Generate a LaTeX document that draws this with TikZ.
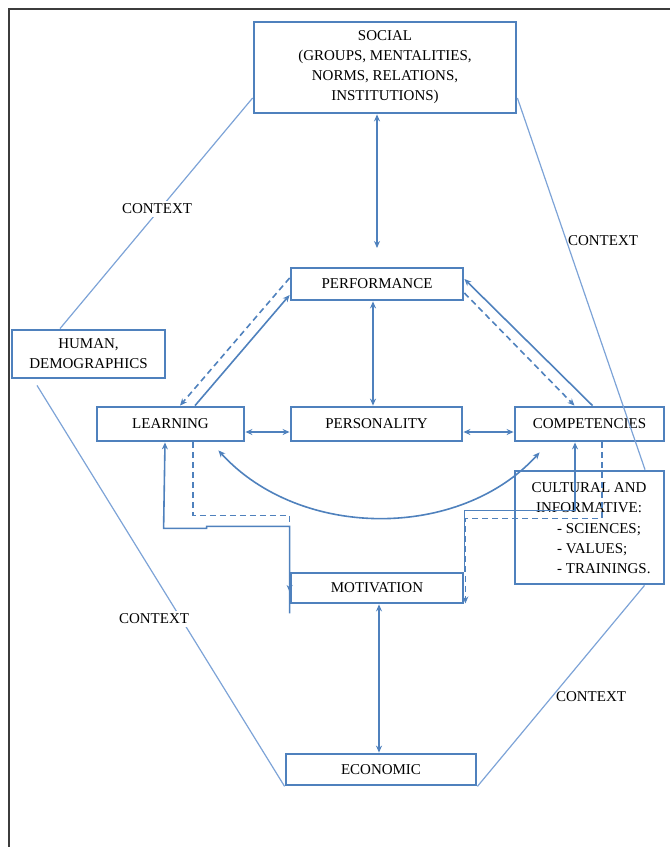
\documentclass[tikz,border=0pt]{standalone}
\usepackage{fontspec}
\setmainfont{Liberation Serif}
\usetikzlibrary{arrows.meta}
\definecolor{boxblue}{RGB}{79,129,189}
\definecolor{ctxblue}{RGB}{125,163,215}
\definecolor{framegray}{RGB}{60,60,60}
\begin{document}
\begin{tikzpicture}[x=1pt,y=-1pt,
  font=\fontsize{15}{20}\selectfont,
  box/.style={draw=boxblue, line width=2.8pt, inner sep=0pt, align=center},
  conn/.style={draw=boxblue, line width=1.6pt},
  dsh/.style={dash pattern=on 6pt off 4pt},
  ctx/.style={draw=ctxblue, line width=1.2pt},
  ctxlabel/.style={inner sep=3pt},
  >={Stealth[length=7pt,width=6pt]}]
\useasboundingbox (0,0) rectangle (670,847);
\draw[framegray, line width=1.8pt] (9,847) -- (9,9) -- (670,9);

% boxes
\node[box, minimum width=262pt, minimum height=91pt] (social) at (385,67.5) {SOCIAL\\(GROUPS, MENTALITIES,\\NORMS, RELATIONS,\\INSTITUTIONS)};
\node[box, minimum width=172pt, minimum height=32pt] (performance) at (377,284) {PERFORMANCE};
\node[box, minimum width=147pt, minimum height=34pt] (learning) at (170.5,424) {LEARNING};
\node[box, minimum width=171pt, minimum height=34pt] (personality) at (376.5,424) {PERSONALITY};
\node[box, minimum width=149pt, minimum height=34pt] (competencies) at (589.5,424) {COMPETENCIES};
\node[box, minimum width=153pt, minimum height=48pt] (human) at (88.5,354) {HUMAN,\\DEMOGRAPHICS};
\node[box, minimum width=149pt, minimum height=113pt] (cultural) at (589.5,527.5) {};
\node[align=center, inner sep=0pt] (culturalhead) at (589,497.5) {CULTURAL AND\\INFORMATIVE:};
\node[align=left, inner sep=0pt, anchor=west] (culturallist) at (557,549) {- SCIENCES;\\- VALUES;\\- TRAININGS.};
\node[box, minimum width=172pt, minimum height=30pt] (motivation) at (377,588) {MOTIVATION};
\node[box, minimum width=190pt, minimum height=31pt] (economic) at (381,769.5) {ECONOMIC};

% context lines
\draw[ctx] ([yshift=-30.5pt]social.west) -- ([xshift=-28.5pt]human.north);
\draw[ctx] ([yshift=-30.5pt]social.east) -- ([xshift=55.5pt]cultural.north);
\draw[ctx] ([xshift=-51.5pt,yshift=-6pt]human.south) -- (economic.south west);
\draw[ctx] ([xshift=55pt]cultural.south) -- (economic.south east);

\node[ctxlabel, fill=white] (ctx1) at (157,209) {CONTEXT};
\node[ctxlabel] (ctx2) at (603,241) {CONTEXT};
\node[ctxlabel, fill=white] (ctx3) at (154,619) {CONTEXT};
\node[ctxlabel] (ctx4) at (591,697) {CONTEXT};

% connectors
\coordinate (sp) at (377,248);
\draw[conn,<->] (social.south -| sp) -- (sp);
\draw[conn,<->] ([xshift=-4pt]performance.south) -- ([xshift=-3.5pt]personality.north);
\draw[conn,<->] ([yshift=-8pt]learning.east) -- ([yshift=-8pt]personality.west);
\draw[conn,<->] ([yshift=-8pt]personality.east) -- ([yshift=-8pt]competencies.west);

\draw[conn,->] ([xshift=24.5pt]learning.north) -- ([yshift=-11pt]performance.west);
\draw[conn,dsh,->] ([yshift=6pt]performance.west) -- ([xshift=9.5pt]learning.north);
\draw[conn,->] ([xshift=3pt]competencies.north) -- ([yshift=5pt]performance.east);
\draw[conn,dsh,->] ([yshift=-9pt]performance.east) -- ([xshift=-15pt]competencies.north);

\draw[conn,<->] ([xshift=-27pt,yshift=-8pt]learning.south east) .. controls (300,540) and (460,540) .. ([xshift=26pt,yshift=-10pt]competencies.south west);

\draw[conn,->] ([yshift=-9pt]motivation.south west) -- ++(0,-87) -- ++(-83,0) -- ++(0,2) -- ++(-43,0) -- ([xshift=-5.5pt]learning.south);
\draw[conn,dsh,->] ([xshift=22.5pt]learning.south) |- ([yshift=56pt]motivation.north west) -- ([yshift=-4pt]motivation.west);

\draw[conn,->] (motivation.north east) -- ++(0,-61) -| ([xshift=-14.5pt]competencies.south);
\draw[conn,dsh,->] ([xshift=12.5pt]competencies.south) |- ([xshift=1pt,yshift=53pt]motivation.north east) -- ([xshift=1pt,yshift=1pt]motivation.south east);

\draw[conn,<->] ([xshift=2pt]motivation.south) -- ([xshift=-2pt]economic.north);
\end{tikzpicture}
\end{document}
